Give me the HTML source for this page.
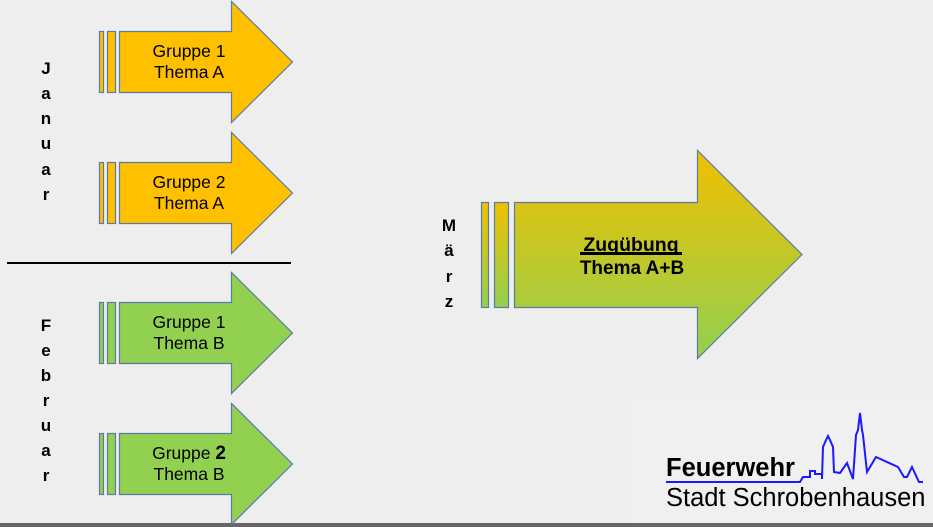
<!DOCTYPE html>
<html><head><meta charset="utf-8"><style>
html,body{margin:0;padding:0;background:#eeeeee;}
svg{display:block;font-family:"Liberation Sans",Arial,sans-serif;}
</style></head><body>
<svg width="933" height="527" viewBox="0 0 933 527" xmlns="http://www.w3.org/2000/svg">
<defs>
<linearGradient id="g" x1="0" y1="0" x2="0" y2="1">
<stop offset="0" stop-color="#f0c000"/><stop offset="1" stop-color="#92d050"/>
</linearGradient>
</defs>
<rect width="933" height="527" fill="#eeeeee"/>
<rect x="632" y="400" width="301" height="124" fill="#f0f0f0"/>
<rect x="0" y="523" width="933" height="4" fill="#666"/>
<g stroke="#5a7aa8" stroke-width="1.2">
<g fill="#ffc000">
<rect x="99.5" y="31.5" width="4" height="61"/><rect x="107.5" y="31.5" width="8" height="61"/>
<polygon points="119.5,31.5 231.5,31.5 231.5,1.5 292.5,62 231.5,122.5 231.5,92.5 119.5,92.5"/>
<rect x="99.5" y="162.5" width="4" height="61"/><rect x="107.5" y="162.5" width="8" height="61"/>
<polygon points="119.5,162.5 231.5,162.5 231.5,132.5 292.5,193 231.5,253.5 231.5,223.5 119.5,223.5"/>
</g>
<g fill="#92d050">
<rect x="99.5" y="302.5" width="4" height="61"/><rect x="107.5" y="302.5" width="8" height="61"/>
<polygon points="119.5,302.5 231.5,302.5 231.5,272.5 292.5,333 231.5,393.5 231.5,363.5 119.5,363.5"/>
<rect x="99.5" y="433.5" width="4" height="61"/><rect x="107.5" y="433.5" width="8" height="61"/>
<polygon points="119.5,433.5 231.5,433.5 231.5,403.5 292.5,464 231.5,524.5 231.5,494.5 119.5,494.5"/>
</g>
<g fill="url(#g)">
<rect x="481.5" y="202.5" width="7" height="105"/><rect x="494.5" y="202.5" width="14" height="105"/>
</g>
<polygon fill="url(#g)" points="514.5,202.5 697.5,202.5 697.5,150.5 802,254.5 697.5,358.5 697.5,307.5 514.5,307.5"/>
</g>
<line x1="7" y1="263" x2="291" y2="263" stroke="#000" stroke-width="2"/>
<g font-size="17.5" text-anchor="middle" fill="#000">
<text x="189" y="57">Gruppe 1</text><text x="189" y="78">Thema A</text>
<text x="189" y="188">Gruppe 2</text><text x="189" y="209">Thema A</text>
<text x="189" y="328">Gruppe 1</text><text x="189" y="349">Thema B</text>
<text x="189" y="459">Gruppe <tspan font-size="19" font-weight="bold">2</tspan></text><text x="189" y="480">Thema B</text>
</g>
<g font-size="17" font-weight="bold" text-anchor="middle">
<text x="46" y="74">J</text><text x="46" y="99">a</text><text x="46" y="124">n</text><text x="46" y="149">u</text><text x="46" y="175">a</text><text x="46" y="200">r</text>
<text x="46" y="331">F</text><text x="46" y="356">e</text><text x="46" y="381">b</text><text x="46" y="406">r</text><text x="46" y="431">u</text><text x="46" y="456">a</text><text x="46" y="481">r</text>
<text x="449" y="231">M</text><text x="449" y="256">ä</text><text x="449" y="282">r</text><text x="449" y="307">z</text>
<text x="631" y="251" font-size="19.5">Zugübung</text>
<text x="632" y="274" font-size="19">Thema A+B</text>
</g>
<rect x="580" y="252" width="102" height="3" fill="#000"/>
<text x="666" y="476" font-size="25.5" font-weight="bold">Feuerwehr</text>
<text x="666" y="506" font-size="25.5">Stadt Schrobenhausen</text>
<polyline fill="none" stroke="#1a1aff" stroke-width="2" points="666,482 800,482 803,477 810,477 810,471 815,471 815,474 822,474 822,479 823,447 826,440 828,436 830,440 833,447 834,472 840,473 847,463 853,479 856,435 858,430 860,413 862,430 863,435 867,472 876,457 898,467 904,477 907,477 912,467 919,482 923,482"/>
</svg>
</body></html>
